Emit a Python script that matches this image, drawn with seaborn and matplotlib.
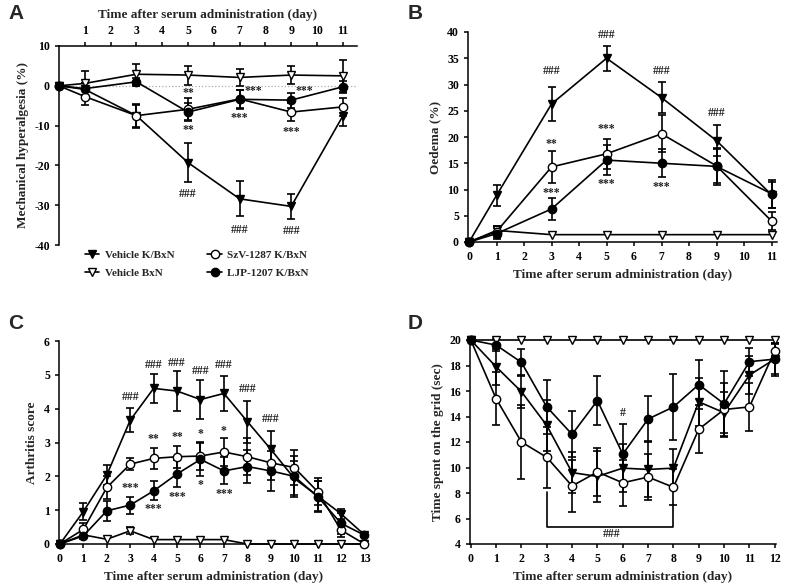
import numpy as np
import matplotlib
matplotlib.use("Agg")
import matplotlib.pyplot as plt
import seaborn as sns

# ---- data ----
groups = ["Vehicle K/BxN", "Vehicle BxN", "SzV-1287 K/BxN", "LJP-1207 K/BxN"]

days_a = [0, 1, 3, 5, 7, 9, 11]
veh_kbxn_a = [0, -0.9, -7.5, -19.3, -28.4, -30.3, -7.6]
veh_kbxn_a_err = [0, 1.5, 3.0, 4.9, 4.4, 3.2, 2.4]
veh_bxn_a = [0, 0.6, 2.9, 2.7, 2.1, 2.7, 2.5]
veh_bxn_a_err = [0, 3.1, 2.7, 2.4, 2.1, 2.2, 4.0]
szv_a = [0, -2.7, -7.5, -5.9, -3.3, -6.6, -5.3]
szv_a_err = [0, 2.0, 2.8, 2.8, 2.3, 2.3, 2.2]
ljp_a = [0, -0.7, 1.0, -6.6, -3.4, -3.6, -0.25]
ljp_a_err = [0, 1.5, 1.0, 2.3, 2.4, 1.9, 1.5]

days_b = [0, 1, 3, 5, 7, 9, 11]
veh_kbxn_b = [0, 8.9, 26.3, 35.0, 27.5, 19.3, 9.0]
veh_kbxn_b_err = [0, 2.0, 3.3, 2.4, 3.0, 3.0, 2.5]
veh_bxn_b = [0, 2.2, 1.4, 1.4, 1.4, 1.4, 1.4]
veh_bxn_b_err = [0, 0.8, 0, 0, 0, 0, 0]
szv_b = [0, 2.0, 14.3, 16.8, 20.6, 14.5, 4.0]
szv_b_err = [0, 1.0, 3.0, 2.8, 3.5, 3.2, 1.8]
ljp_b = [0, 1.6, 6.3, 15.6, 15.0, 14.4, 9.2]
ljp_b_err = [0, 1.0, 2.1, 2.8, 2.7, 3.6, 2.7]

days_c = list(range(0, 14))
veh_kbxn_c = [0, 0.96, 2.04, 3.66, 4.6, 4.52, 4.27, 4.45, 3.62, 2.8, 1.94, 1.42, 0.89, 0.27]
veh_kbxn_c_err = [0, 0.25, 0.3, 0.36, 0.43, 0.6, 0.57, 0.53, 0.62, 0.55, 0.5, 0.45, 0.15, 0.05]
veh_bxn_c = [0, 0.27, 0.14, 0.39, 0.13, 0.13, 0.13, 0.13, 0, 0, 0, 0, 0, 0]
veh_bxn_c_err = [0, 0.1, 0, 0.1, 0, 0, 0, 0, 0, 0, 0, 0, 0, 0]
szv_c = [0, 0.43, 1.67, 2.36, 2.53, 2.58, 2.6, 2.72, 2.58, 2.4, 2.26, 1.55, 0.41, 0]
szv_c_err = [0, 0.2, 0.35, 0.17, 0.3, 0.32, 0.42, 0.4, 0.55, 0.5, 0.53, 0.4, 0.2, 0]
ljp_c = [0, 0.24, 0.98, 1.15, 1.57, 2.07, 2.5, 2.16, 2.29, 2.16, 2.0, 1.4, 0.61, 0.26]
ljp_c_err = [0, 0.1, 0.3, 0.25, 0.28, 0.4, 0.5, 0.4, 0.5, 0.6, 0.6, 0.45, 0.3, 0.05]

days_d = list(range(0, 13))
veh_kbxn_d = [20, 17.9, 15.95, 13.3, 9.6, 9.3, 9.95, 9.85, 9.95, 15.15, 14.3, 17.25, 18.5]
veh_kbxn_d_err = [0, 1.4, 1.3, 2.0, 1.6, 2.0, 1.9, 2.2, 1.5, 1.9, 1.6, 1.5, 1.2]
veh_bxn_d = [20] * 13
veh_bxn_d_err = [0] * 13
szv_d = [20, 15.4, 12.0, 10.8, 8.55, 9.65, 8.8, 9.25, 8.45, 13.0, 14.55, 14.75, 19.15]
szv_d_err = [0, 2.1, 2.9, 2.4, 2.05, 1.9, 1.8, 1.8, 1.4, 1.9, 2.1, 1.9, 0.6]
ljp_d = [20, 19.6, 18.25, 14.75, 12.6, 15.25, 11.05, 13.8, 14.75, 16.5, 15.0, 18.3, 18.5]
ljp_d_err = [0, 0.5, 1.05, 2.1, 1.8, 1.9, 2.4, 1.8, 2.6, 1.9, 2.6, 1.1, 1.3]

# significance marks: (day, y, text)
marks_a = [(5, -1.7, "**"), (5, -11.2, "**"), (5, -27.3, "###"),
           (7.55, -1.4, "***"), (7, -8.2, "***"), (7, -36.3, "###"),
           (9.5, -1.4, "***"), (9, -11.7, "***"), (9, -36.6, "###")]
marks_b = [(3, 32.5, "###"), (5, 39.5, "###"), (7, 32.5, "###"), (9, 24.5, "###"),
           (3, 18.7, "**"), (3, 9.4, "***"), (5, 21.5, "***"), (5, 11.0, "***"),
           (7, 10.4, "***")]
marks_c = [(3, 4.35, "###"), (4, 5.3, "###"), (5, 5.35, "###"), (6, 5.1, "###"),
           (7, 5.3, "###"), (8, 4.57, "###"), (9, 3.68, "###"),
           (4, 3.1, "**"), (5, 3.15, "**"), (6, 3.25, "*"), (7, 3.35, "*"),
           (3, 1.65, "***"), (4, 1.03, "***"), (5, 1.38, "***"), (6, 1.74, "*"),
           (7, 1.48, "***")]
marks_d = [(6, 14.3, "#"), (5.55, 4.75, "###")]

xlabel = "Time after serum administration (day)"

# ---- style ----
sns.set_style("ticks")
plt.rcParams["font.family"] = ["Liberation Serif", "DejaVu Serif"]
plt.rcParams["font.weight"] = "bold"
plt.rcParams["axes.labelweight"] = "bold"
plt.rcParams["axes.unicode_minus"] = False
plt.rcParams["axes.linewidth"] = 1.1
plt.rcParams["xtick.major.width"] = 1.1
plt.rcParams["ytick.major.width"] = 1.1
plt.rcParams["xtick.major.size"] = 3
plt.rcParams["ytick.major.size"] = 3
plt.rcParams["xtick.labelsize"] = 8.5
plt.rcParams["ytick.labelsize"] = 8.5
plt.rcParams["axes.labelsize"] = 9.5
plt.rcParams["xtick.color"] = "black"
plt.rcParams["ytick.color"] = "black"
plt.rcParams["axes.edgecolor"] = "black"

styles = {
    "Vehicle K/BxN": dict(marker="v", markerfacecolor="black"),
    "Vehicle BxN": dict(marker="v", markerfacecolor="white"),
    "SzV-1287 K/BxN": dict(marker="o", markerfacecolor="white"),
    "LJP-1207 K/BxN": dict(marker="o", markerfacecolor="black"),
}


def draw(ax, days, series, marks):
    for name, vals, errs in series:
        days_arr = np.array(days, dtype=float)
        vals_arr = np.array(vals, dtype=float)
        errs_arr = np.array(errs, dtype=float)
        keep = errs_arr > 0
        ax.errorbar(days_arr[keep], vals_arr[keep], yerr=errs_arr[keep], fmt="none",
                    ecolor="black", elinewidth=1.2, capsize=3, capthick=1.2, zorder=2)
        sns.lineplot(x=days, y=vals, ax=ax, color="black", linewidth=1.2,
                     markersize=6, markeredgecolor="black", markeredgewidth=1.0,
                     label=name, zorder=3, **styles[name])
    for x, y, t in marks:
        ax.text(x, y, t, ha="center", va="center", fontsize=8.5, color="#222222")
    if ax.get_legend() is not None:
        ax.get_legend().remove()


W, H = 787, 584
fig = plt.figure(figsize=(W / 100, H / 100), dpi=100)


def box(l, t, r, b):
    return [l / W, 1 - b / H, (r - l) / W, (b - t) / H]


ax_a = fig.add_axes(box(59, 46, 357, 245))
ax_b = fig.add_axes(box(468, 32, 777, 242))
ax_c = fig.add_axes(box(59, 341, 368, 544))
ax_d = fig.add_axes(box(470, 340, 776, 544))

# panel A
ax_a.axhline(0, color="#aaaaaa", linestyle=":", linewidth=0.9, zorder=1)
draw(ax_a, days_a, [(groups[0], veh_kbxn_a, veh_kbxn_a_err),
                    (groups[1], veh_bxn_a, veh_bxn_a_err),
                    (groups[2], szv_a, szv_a_err),
                    (groups[3], ljp_a, ljp_a_err)], marks_a)
ax_a.set_xlim(0, 11.55)
ax_a.set_ylim(-40, 10)
ax_a.set_yticks([10, 0, -10, -20, -30, -40])
ax_a.set_xticks(range(1, 12))
ax_a.xaxis.tick_top()
ax_a.xaxis.set_label_position("top")
ax_a.spines["bottom"].set_visible(False)
ax_a.spines["right"].set_visible(False)
ax_a.set_xlabel(xlabel, labelpad=5)
ax_a.set_ylabel("Mechanical hyperalgesia (%)")

# panel B
draw(ax_b, days_b, [(groups[0], veh_kbxn_b, veh_kbxn_b_err),
                    (groups[1], veh_bxn_b, veh_bxn_b_err),
                    (groups[2], szv_b, szv_b_err),
                    (groups[3], ljp_b, ljp_b_err)], marks_b)
ax_b.set_xlim(-0.04, 11.2)
ax_b.set_ylim(0, 40)
ax_b.set_xticks(range(0, 12))
ax_b.set_yticks(range(0, 41, 5))
ax_b.set_xlabel(xlabel)
ax_b.set_ylabel("Oedema (%)")
sns.despine(ax=ax_b)

# panel C
draw(ax_c, days_c, [(groups[0], veh_kbxn_c, veh_kbxn_c_err),
                    (groups[1], veh_bxn_c, veh_bxn_c_err),
                    (groups[2], szv_c, szv_c_err),
                    (groups[3], ljp_c, ljp_c_err)], marks_c)
ax_c.set_xlim(-0.04, 13.15)
ax_c.set_ylim(0, 6)
ax_c.set_xticks(range(0, 14))
ax_c.set_yticks(range(0, 7))
ax_c.set_xlabel(xlabel)
ax_c.set_ylabel("Arthritis score")
sns.despine(ax=ax_c)

# panel D
draw(ax_d, days_d, [(groups[1], veh_bxn_d, veh_bxn_d_err),
                    (groups[0], veh_kbxn_d, veh_kbxn_d_err),
                    (groups[2], szv_d, szv_d_err),
                    (groups[3], ljp_d, ljp_d_err)], marks_d)
ax_d.plot([3, 3, 8, 8], [8.1, 5.36, 5.36, 7.06], color="black", linewidth=1.2)
ax_d.set_xlim(-0.03, 12.05)
ax_d.set_ylim(4, 20)
ax_d.set_xticks(range(0, 13))
ax_d.set_yticks(range(4, 21, 2))
ax_d.set_xlabel(xlabel)
ax_d.set_ylabel("Time spent on the grid (sec)")
sns.despine(ax=ax_d)

for ax in (ax_a, ax_b, ax_c, ax_d):
    for c in ax.get_children():
        c.set_clip_on(False)

# legend under panel A
handles, labels = ax_a.get_legend_handles_labels()
fig.legend(handles, labels, loc="center", bbox_to_anchor=(0.25, 0.548), ncol=2,
           frameon=False, fontsize=8, handlelength=1.3, columnspacing=3.0,
           handletextpad=0.5, labelspacing=0.75)

# panel letters
for t, x, y in [("A", 8, 4), ("B", 408, 4), ("C", 8, 314), ("D", 408, 314)]:
    fig.text(x / W, 1 - y / H, t, ha="left", va="top", fontsize=15, fontweight="bold",
             family="Liberation Sans")

fig.savefig("out.png", dpi=100)
